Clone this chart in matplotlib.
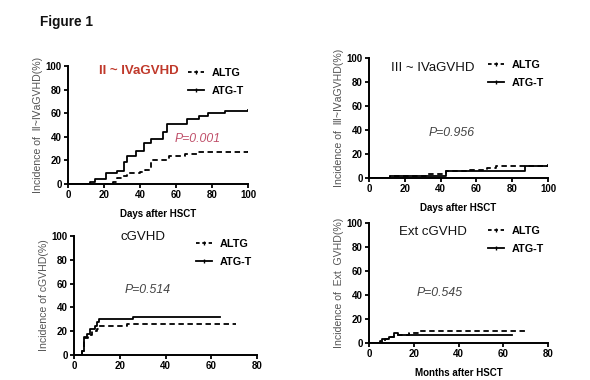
import matplotlib
matplotlib.use("Agg")
import matplotlib.pyplot as plt
from matplotlib.lines import Line2D

plt.rcParams['font.family'] = ['Liberation Sans', 'DejaVu Sans']

# ---------- data ----------
# Panel A: II~IV aGVHD (days)
a_atgt_x = [0, 12, 15, 21, 27, 31, 33, 38, 42, 46, 53, 55, 66, 73, 78, 87, 100]
a_atgt_y = [0, 2, 4, 9, 11, 19, 24, 28, 35, 38, 44, 51, 55, 58, 60, 62, 63]
a_altg_x = [0, 25, 27, 30, 33, 40, 43, 46, 56, 65, 72, 100]
a_altg_y = [0, 2, 5, 7, 9, 10, 12, 20, 24, 25, 27, 28]

# Panel B: III~IV aGVHD (days)
b_atgt_x = [0, 12, 43, 87, 100]
b_atgt_y = [0, 2, 6, 10, 11]
b_altg_x = [0, 12, 33, 43, 55, 66, 71, 100]
b_altg_y = [0, 2, 3, 6, 7, 8, 10, 11]

# Panel C: cGVHD (months)
c_atgt_x = [0, 3.5, 4.5, 5.5, 7, 9, 10, 11, 26, 64]
c_atgt_y = [0, 3, 15, 18, 22, 24, 28, 30, 32, 32]
c_altg_x = [0, 3.5, 4.5, 6, 8, 10, 11, 23, 71]
c_altg_y = [0, 3, 14, 17, 20, 22, 24, 26, 26]

# Panel D: Ext cGVHD (months)
d_atgt_x = [0, 6, 9, 11, 13, 64]
d_atgt_y = [0, 3, 5, 8, 7, 7]
d_altg_x = [0, 5, 7, 9, 11, 18, 23, 71]
d_altg_y = [0, 2, 3, 5, 7, 8, 10, 10]

titles = ["II ~ IVaGVHD", "III ~ IVaGVHD", "cGVHD", "Ext cGVHD"]
ylabels = ["Incidence of  \u2161~\u2163aGVHD(%)", "Incidence of  \u2162~\u2163aGVHD(%)",
           "Incidence of cGVHD(%)", "Incidence of  Ext  GVHD(%)"]
xlabels = ["Days after HSCT", "Days after HSCT", "Months after HSCT", "Months after HSCT"]
pvals = ["P=0.001", "P=0.956", "P=0.514", "P=0.545"]
series_names = ["ALTG", "ATG-T"]
xmax = [100, 100, 80, 80]
xticks = [[0, 20, 40, 60, 80, 100], [0, 20, 40, 60, 80, 100], [0, 20, 40, 60, 80], [0, 20, 40, 60, 80]]
yticks = [0, 20, 40, 60, 80, 100]

data = [
    (a_altg_x, a_altg_y, a_atgt_x, a_atgt_y),
    (b_altg_x, b_altg_y, b_atgt_x, b_atgt_y),
    (c_altg_x, c_altg_y, c_atgt_x, c_atgt_y),
    (d_altg_x, d_altg_y, d_atgt_x, d_atgt_y),
]

W, H = 590, 380
fig = plt.figure(figsize=(5.9, 3.8), dpi=100)

# axes boxes in pixels: left, top, right, bottom
boxes = [(68, 66, 248, 184), (369, 58, 548, 178), (74, 236, 257, 355), (369, 223, 548, 343)]
title_pos = [(139, 71), (433, 68), (143, 237), (433, 232)]
title_col = ["#c0392b", "#111111", "#111111", "#111111"]
p_pos = [(198, 139), (452, 133), (148, 290), (440, 293)]
p_col = ["#c0506a", "#444444", "#444444", "#444444"]
leg_pos = [(188, 68), (488, 60), (196, 239), (488, 226)]

fig.text(40 / W, 1 - 22 / H, "Figure 1", fontsize=9.8, fontweight='bold',
         ha='left', va='center', color='#111111')

for i in range(4):
    l, t, r, b = boxes[i]
    ax = fig.add_axes([l / W, 1 - b / H, (r - l) / W, (b - t) / H])
    ax_x, ay, sx, sy = data[i]
    ax.step(ax_x, ay, where='post', color='black', lw=1.3, ls=(0, (3, 2)))
    ax.step(sx, sy, where='post', color='black', lw=1.3)
    ax.set_xlim(0, xmax[i])
    ax.set_ylim(0, 100)
    ax.set_xticks(xticks[i])
    ax.set_yticks(yticks)
    for s in ['top', 'right']:
        ax.spines[s].set_visible(False)
    for s in ['left', 'bottom']:
        ax.spines[s].set_linewidth(1.4)
    ax.tick_params(axis='both', length=3, width=1.3, labelsize=7, pad=1.5)
    for lab in ax.get_xticklabels() + ax.get_yticklabels():
        lab.set_fontweight('bold')
    ax.set_ylabel(ylabels[i], fontsize=7.6, color='#555555', labelpad=2)
    if i != 2:
        ax.set_xlabel(xlabels[i], fontsize=7, fontweight='bold', labelpad=6)
    else:
        ax.set_xlabel(xlabels[i], fontsize=7, fontweight='bold', labelpad=12)
    tx, ty = title_pos[i]
    fig.text(tx / W, 1 - ty / H, titles[i], fontsize=9.5, color=title_col[i],
             ha='center', va='center', fontweight='bold' if i == 0 else 'normal')
    px, py = p_pos[i]
    fig.text(px / W, 1 - py / H, pvals[i], fontsize=8.8, color=p_col[i],
             ha='center', va='center', style='italic')
    handles = [Line2D([], [], color='black', lw=1.3, ls=(0, (2, 1.5)), marker='|', markersize=3),
               Line2D([], [], color='black', lw=1.3, marker='|', markersize=3)]
    lx, ly = leg_pos[i]
    fig.legend(handles, series_names, loc='upper left',
               bbox_to_anchor=(lx / W, 1 - ly / H), frameon=False,
               handlelength=1.5, handletextpad=0.7,
               labelspacing=0.75, borderpad=0, borderaxespad=0,
               prop={'weight': 'bold', 'size': 7.8})

fig.savefig("out.png", dpi=100)
